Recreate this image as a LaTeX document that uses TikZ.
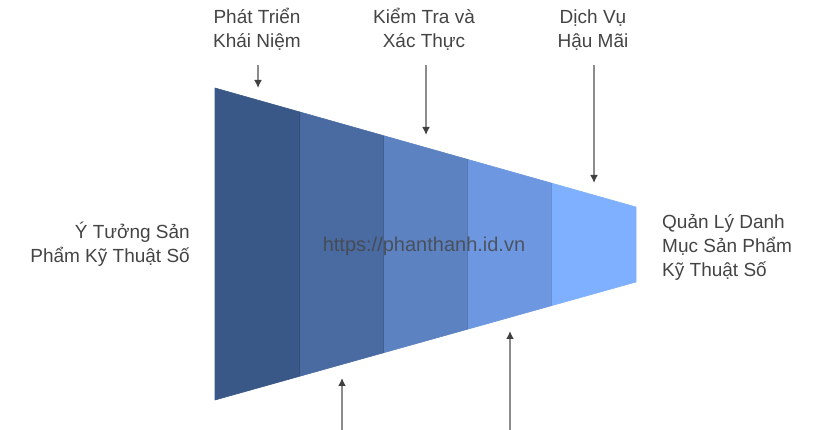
\documentclass[tikz,border=0pt]{standalone}
\usepackage{xcolor}
\usepackage{fontspec}
\setmainfont{Liberation Sans}
\usetikzlibrary{arrows.meta}
\definecolor{stageone}{RGB}{58,88,135}
\definecolor{stagetwo}{RGB}{74,107,162}
\definecolor{stagethree}{RGB}{92,130,194}
\definecolor{stagefour}{RGB}{109,151,224}
\definecolor{stagefive}{RGB}{127,176,255}
\definecolor{labeltext}{RGB}{68,68,68}
\definecolor{shaft}{RGB}{140,140,140}
\definecolor{tip}{RGB}{64,64,64}
\tikzstyle{label}=[inner sep=0pt, text=labeltext, font=\fontsize{19}{24}\selectfont]
\tikzset{band/.style={line width=.6pt, line join=round}}
\tikzset{pointer/.style={draw=shaft, line width=1.8pt, -{Latex[length=8pt,width=8pt,color=tip]}}}
\tikzset{watermark/.style={inner sep=0pt, text=labeltext, opacity=.8, font=\fontsize{20}{24}\selectfont}}

\begin{document}
\begin{tikzpicture}[x=1pt,y=-1pt]
  \useasboundingbox (0,0) rectangle (828,430);
  %% Funnel bands
  \filldraw[band,fill=stageone,draw=stageone] (215,88) -- (299.2,111.8) -- (299.2,376.4) -- (215,400) -- cycle;
  \filldraw[band,fill=stagetwo,draw=stagetwo] (299.2,111.8) -- (383.4,135.6) -- (383.4,352.8) -- (299.2,376.4) -- cycle;
  \filldraw[band,fill=stagethree,draw=stagethree] (383.4,135.6) -- (467.6,159.4) -- (467.6,329.2) -- (383.4,352.8) -- cycle;
  \filldraw[band,fill=stagefour,draw=stagefour] (467.6,159.4) -- (551.8,183.2) -- (551.8,305.6) -- (467.6,329.2) -- cycle;
  \filldraw[band,fill=stagefive,draw=stagefive] (551.8,183.2) -- (636,207) -- (636,282) -- (551.8,305.6) -- cycle;
  \draw[line width=1.2pt,stageone!85!black] (299.2,111.8) -- (299.2,376.4);
  \draw[line width=1.2pt,stagetwo!90!black] (383.4,135.6) -- (383.4,352.8);
  \draw[line width=1.2pt,stagethree!92!black] (467.6,159.4) -- (467.6,329.2);
  \draw[line width=1.2pt,stagefour!95!black] (551.8,183.2) -- (551.8,305.6);

  %% Labels (base = last line)
  \draw (257,48) node[label,anchor=base,align=center] (concept) {Phát Triển\\Khái Niệm};
  \draw (424,48) node[label,anchor=base,align=center] (testing) {Kiểm Tra và\\Xác Thực};
  \draw (593,48) node[label,anchor=base,align=center] (service) {Dịch Vụ\\Hậu Mãi};
  \draw (190,263) node[label,anchor=base east,align=right] (idea) {Ý Tưởng Sản\\Phẩm Kỹ Thuật Số};
  \draw (662,277) node[label,anchor=base west,align=left] (portfolio) {Quản Lý Danh\\Mục Sản Phẩm\\Kỹ Thuật Số};
  \draw (424,252) node[watermark,anchor=base] (site) {https://phanthanh.id.vn};

  %% Pointers
  \coordinate (conceptfrom) at (258,65);
  \coordinate (conceptto) at (258,88);
  \coordinate (testingfrom) at (426,65);
  \coordinate (testingto) at (426,135);
  \coordinate (servicefrom) at (594,65);
  \coordinate (serviceto) at (594,183);
  \coordinate (designfrom) at (342,432);
  \coordinate (designto) at (342,378);
  \coordinate (launchfrom) at (510,432);
  \coordinate (launchto) at (510,331);

  \draw[pointer] (conceptfrom) -- (conceptto);
  \draw[pointer] (testingfrom) -- (testingto);
  \draw[pointer] (servicefrom) -- (serviceto);
  \draw[pointer] (designfrom) -- (designto);
  \draw[pointer] (launchfrom) -- (launchto);
\end{tikzpicture}
\end{document}
